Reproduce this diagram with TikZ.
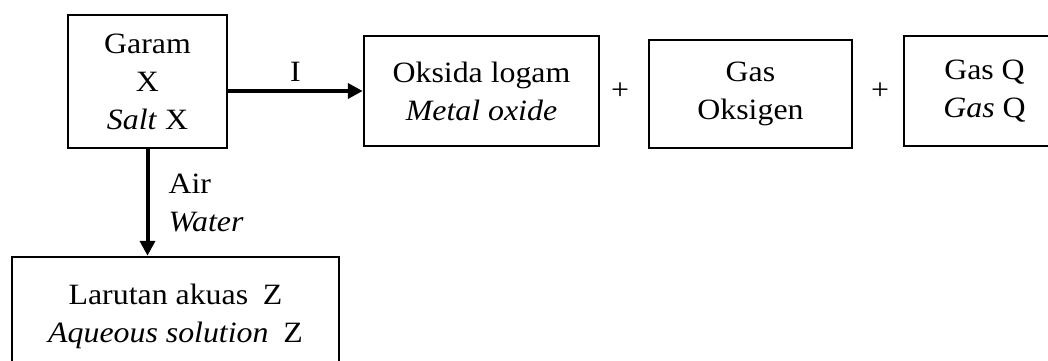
\documentclass[tikz,border=0pt]{standalone}
\usepackage{fontspec}
\setmainfont{Liberation Serif}[FakeStretch=1.08]
\usetikzlibrary{arrows.meta}
\begin{document}
\begin{tikzpicture}[x=1pt,y=-1pt,
  box/.style={draw,line width=2.5pt,inner sep=0pt,align=center,
    font=\fontsize{29.5}{38}\selectfont},
  lbl/.style={inner sep=0pt,font=\fontsize{29.5}{38}\selectfont},
  conn/.style={line width=4pt,-{Triangle[length=15pt,width=15pt]}}]
\useasboundingbox (0,0) rectangle (1048,360);
\node[box,minimum width=159pt,minimum height=133pt] (garam) at (147.5,81.5)
  {Garam\\X\\\textit{Salt} X};
\node[box,minimum width=235pt,minimum height=110pt] (oksida) at (481.5,91)
  {Oksida logam\\\textit{Metal oxide}};
\node[lbl] (p1) at (620,91) {+};
\node[box,minimum width=203pt,minimum height=108pt] (oksigen) at (750.5,94)
  {Gas\\Oksigen};
\node[lbl] (p2) at (880,91) {+};
\node[box,minimum width=161pt,minimum height=110pt] (gasq) at (984.5,91)
  {Gas Q\\\textit{Gas} Q};
\node[box,minimum width=327pt,minimum height=118pt] (larutan) at (175.5,316)
  {Larutan akuas\hspace{0.5em}Z\\\textit{Aqueous solution}\hspace{0.5em}Z};
\draw[conn] (garam.east |- oksida.west) -- (oksida.west)
  node[lbl,midway,above=8pt] (li) {I};
\draw[conn] (garam.south) -- (garam.south |- larutan.north)
  node[lbl,midway,right=19pt,align=left] (lw) {Air\\\textit{Water}};
\end{tikzpicture}
\end{document}
